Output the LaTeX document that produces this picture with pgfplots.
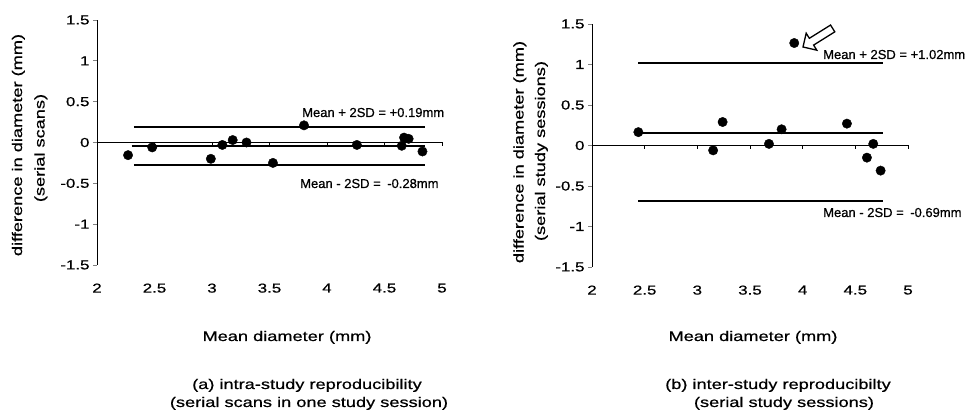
\documentclass[border=0pt]{standalone}
\usepackage{fontspec}
\setmainfont{Liberation Sans}[FakeStretch=1.3, FakeBold=0.6]
\newfontfamily\annfont{Liberation Sans}[FakeBold=0.6]
\usepackage{pgfplots}
\pgfplotsset{compat=1.18}

\newcommand{\lblfont}{\fontsize{14}{17}\selectfont}
\newcommand{\annsize}{\annfont\fontsize{13}{15}\selectfont}

\pgfplotsset{
  blandaltman/.style={
    scale only axis,
    anchor=south west,
    xmin=2, xmax=5, ymin=-1.5, ymax=1.5,
    axis y line*=left,
    axis x line*=bottom,
    x axis line style={draw=none},
    y axis line style={line width=0.9pt},
    xtick={2,2.5,3,3.5,4,4.5,5},
    xticklabels={2,2.5,3,3.5,4,4.5,5},
    ytick={-1.5,-1,-0.5,0,0.5,1,1.5},
    yticklabels={-1.5,-1,-0.5,0,0.5,1,1.5},
    tick align=outside,
    major tick length=4pt,
    xtick style={draw=none},
    ytick style={line width=0.9pt},
    ticklabel style={font=\fontsize{13}{15}\selectfont},
    xticklabel style={yshift=-11pt},
    clip=false,
  },
  dots/.style={only marks, mark=*, mark size=4.7pt, black},
  limit/.style={line width=2pt, black},
}

\begin{document}
\begin{tikzpicture}

% (a) intra-study
\begin{axis}[blandaltman, at={(97pt,149pt)}, width=345pt, height=245pt]
\addplot[line width=0.9pt, black] coordinates {(2,0) (5,0)};
\foreach \t in {2.5,3,3.5,4,4.5,5} {
  \edef\temp{\noexpand\draw[line width=0.9pt] (axis cs:\t,0) -- ([yshift=-4pt]axis cs:\t,0);}
  \temp
}
\addplot[limit] coordinates {(2.32,0.19) (4.85,0.19)};
\addplot[limit] coordinates {(2.30,-0.045) (4.85,-0.045)};
\addplot[limit] coordinates {(2.32,-0.28) (4.85,-0.28)};
\addplot[dots] coordinates {
  (2.27,-0.155) (2.48,-0.06) (2.99,-0.20) (3.09,-0.03) (3.18,0.03)
  (3.30,0.00) (3.53,-0.25) (3.80,0.21) (4.26,-0.03) (4.65,-0.04)
  (4.67,0.06) (4.71,0.045) (4.83,-0.11)
};
\end{axis}

% (b) inter-study
\begin{axis}[blandaltman, at={(592pt,147pt)}, width=316pt, height=243pt]
\addplot[line width=0.9pt, black] coordinates {(2,0) (5,0)};
\foreach \t in {2.5,3,3.5,4,4.5,5} {
  \edef\temp{\noexpand\draw[line width=0.9pt] (axis cs:\t,0) -- ([yshift=-4pt]axis cs:\t,0);}
  \temp
}
\addplot[limit] coordinates {(2.44,1.02) (4.76,1.02)};
\addplot[limit] coordinates {(2.44,0.16) (4.76,0.16)};
\addplot[limit] coordinates {(2.44,-0.69) (4.76,-0.69)};
\addplot[dots] coordinates {
  (2.44,0.165) (3.15,-0.06) (3.24,0.29) (3.68,0.02) (3.80,0.20)
  (3.92,1.265) (4.42,0.27) (4.61,-0.15) (4.67,0.02) (4.74,-0.31)
};
\end{axis}

% arrow pointing at the outlier
\draw[line width=1.3pt, fill=white, shift={(803pt,367pt)}, rotate=32]
  (0,0) -- (10pt,10pt) -- (10pt,4pt) -- (35pt,4pt) -- (35pt,-4pt)
  -- (10pt,-4pt) -- (10pt,-10pt) -- cycle;

% limit annotations
\node[anchor=base west, inner sep=0, font=\annsize] at (302pt,297pt) {Mean + 2SD = +0.19mm};
\node[anchor=base west, inner sep=0, font=\annsize] at (300pt,226pt) {Mean - 2SD =\enspace-0.28mm};
\node[anchor=base west, inner sep=0, font=\annsize] at (823pt,355pt) {Mean + 2SD = +1.02mm};
\node[anchor=base west, inner sep=0, font=\annsize] at (823pt,197pt) {Mean - 2SD =\enspace-0.69mm};

% y labels
\node[rotate=90, anchor=base, inner sep=0, font=\lblfont] at (22pt,269pt) {difference in diameter (mm)};
\node[rotate=90, anchor=base, inner sep=0, font=\lblfont] at (44.5pt,266pt) {(serial scans)};
\node[rotate=90, anchor=base, inner sep=0, font=\lblfont] at (523.5pt,262pt) {difference in diameter (mm)};
\node[rotate=90, anchor=base, inner sep=0, font=\lblfont] at (545pt,263pt) {(serial study sessions)};

% x labels
\node[anchor=base, inner sep=0, font=\lblfont] at (287pt,73pt) {Mean diameter (mm)};
\node[anchor=base, inner sep=0, font=\lblfont] at (753pt,73pt) {Mean diameter (mm)};

% captions
\node[anchor=base, inner sep=0, font=\lblfont] at (307pt,25pt) {(a) intra-study reproducibility};
\node[anchor=base, inner sep=0, font=\lblfont] at (309pt,7pt) {(serial scans in one study session)};
\node[anchor=base, inner sep=0, font=\lblfont] at (778pt,25pt) {(b) inter-study reproducibilty};
\node[anchor=base, inner sep=0, font=\lblfont] at (784pt,7pt) {(serial study sessions)};

\pgfresetboundingbox
\useasboundingbox (0,0) rectangle (969pt,414pt);
\end{tikzpicture}
\end{document}
